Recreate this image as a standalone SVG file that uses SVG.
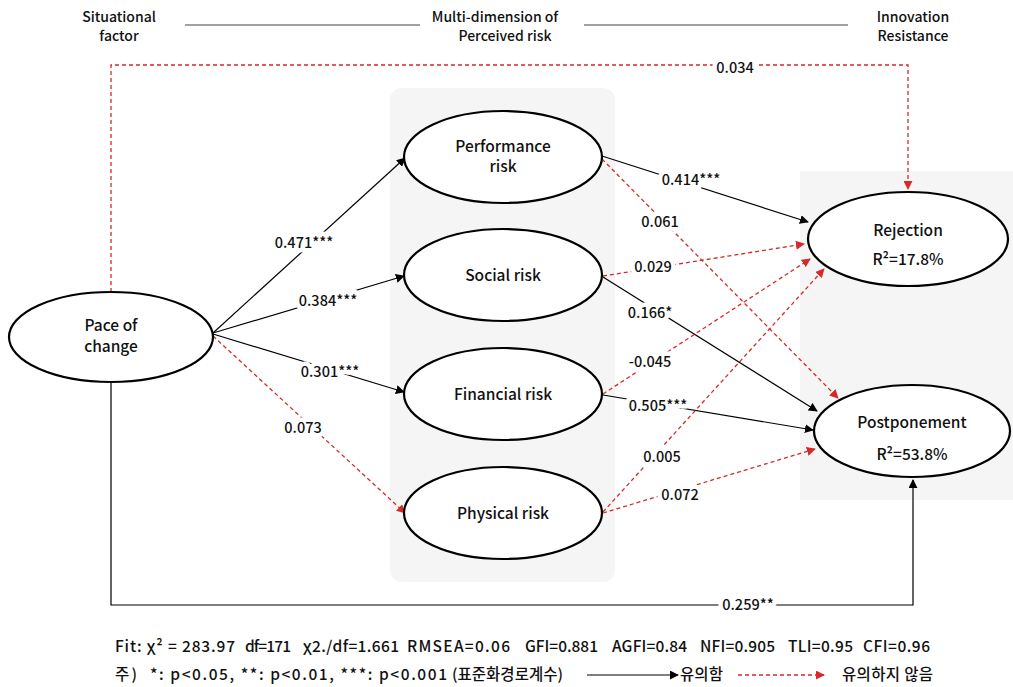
<svg xmlns="http://www.w3.org/2000/svg" width="1013" height="687" viewBox="0 0 1013 687">
<defs>
<style>
text{font-family:"Noto Sans CJK KR","Noto Sans",sans-serif;fill:#111;font-weight:500;}
.hdr{font-size:14px;text-anchor:middle;}
.node ellipse{fill:#fff;stroke:#000;stroke-width:2.2;}
.nt{font-size:15.5px;text-anchor:middle;}
.lbl{font-size:14.5px;text-anchor:middle;paint-order:stroke;stroke:#fff;stroke-width:9px;stroke-linejoin:round;}
.sig{fill:none;stroke:#000;stroke-width:1.2;}
.ns{fill:none;stroke:#d42a2a;stroke-width:1.3;stroke-dasharray:4 3;}
.ft{font-size:15.5px;}
</style>
<marker id="ab" viewBox="0 0 10 10" refX="9" refY="5" markerWidth="9" markerHeight="9" markerUnits="userSpaceOnUse" orient="auto"><path d="M0,0L10,5L0,10z" fill="#000"/></marker>
<marker id="ar" viewBox="0 0 10 10" refX="9" refY="5" markerWidth="9" markerHeight="9" markerUnits="userSpaceOnUse" orient="auto"><path d="M0,0L10,5L0,10z" fill="#d42a2a"/></marker>
</defs>
<rect width="1013" height="687" fill="#fff"/>
<rect x="390" y="88" width="225" height="494" rx="12" fill="#f5f5f5"/>
<rect x="800" y="171" width="213" height="329" fill="#f5f5f5"/>

<g id="headers">
<text class="hdr" x="119" y="22">Situational</text>
<text class="hdr" x="119" y="41">factor</text>
<text class="hdr" x="495" y="22">Multi-dimension of</text>
<text class="hdr" x="505" y="41">Perceived risk</text>
<text class="hdr" x="913" y="22">Innovation</text>
<text class="hdr" x="913" y="41">Resistance</text>
<line x1="185" y1="25" x2="420" y2="25" stroke="#444" stroke-width="1"/>
<line x1="584" y1="25" x2="848" y2="25" stroke="#444" stroke-width="1"/>
</g>

<g id="connectors">
<polyline class="ns" points="111,292 111,65 908,65 908,189" marker-end="url(#ar)"/>
<polyline class="sig" points="111,382 111,605 913,605 913,480" marker-end="url(#ab)"/>
<line class="sig" x1="213" y1="333" x2="405" y2="158" marker-end="url(#ab)"/>
<line class="sig" x1="213" y1="333" x2="404" y2="276" marker-end="url(#ab)"/>
<line class="sig" x1="213" y1="334" x2="404" y2="392" marker-end="url(#ab)"/>
<line class="ns" x1="213" y1="336" x2="405" y2="513" marker-end="url(#ar)"/>
<line class="sig" x1="602" y1="156" x2="808" y2="222" marker-end="url(#ab)"/>
<line class="ns" x1="602" y1="159" x2="838" y2="398" marker-end="url(#ar)"/>
<line class="ns" x1="603" y1="276" x2="804" y2="244" marker-end="url(#ar)"/>
<line class="sig" x1="603" y1="277" x2="817" y2="411" marker-end="url(#ab)"/>
<line class="ns" x1="603" y1="394" x2="810" y2="259" marker-end="url(#ar)"/>
<line class="sig" x1="603" y1="395" x2="813" y2="430" marker-end="url(#ab)"/>
<line class="ns" x1="603" y1="512" x2="824" y2="269" marker-end="url(#ar)"/>
<line class="ns" x1="603" y1="513" x2="815" y2="449" marker-end="url(#ar)"/>
</g>

<g id="labels">
<text class="lbl" x="735" y="73">0.034</text>
<text class="lbl" x="304" y="248">0.471***</text>
<text class="lbl" x="328" y="306">0.384***</text>
<text class="lbl" x="330" y="377">0.301***</text>
<text class="lbl" x="303" y="433">0.073</text>
<text class="lbl" x="691" y="185">0.414***</text>
<text class="lbl" x="660" y="227">0.061</text>
<text class="lbl" x="653" y="272">0.029</text>
<text class="lbl" x="650" y="318">0.166*</text>
<text class="lbl" x="650" y="367">-0.045</text>
<text class="lbl" x="658" y="411">0.505***</text>
<text class="lbl" x="662" y="462">0.005</text>
<text class="lbl" x="680" y="500">0.072</text>
<text class="lbl" x="748" y="610">0.259**</text>
</g>

<g id="pace" class="node"><ellipse cx="111" cy="337" rx="102" ry="45"/><text class="nt" x="111" y="331">Pace of</text><text class="nt" x="111" y="352">change</text></g>
<g id="performance" class="node"><ellipse cx="503" cy="157" rx="99" ry="46"/><text class="nt" x="503" y="152">Performance</text><text class="nt" x="503" y="172">risk</text></g>
<g id="social" class="node"><ellipse cx="503" cy="275" rx="99" ry="46"/><text class="nt" x="503" y="281">Social risk</text></g>
<g id="financial" class="node"><ellipse cx="503" cy="394" rx="99" ry="46"/><text class="nt" x="503" y="400">Financial risk</text></g>
<g id="physical" class="node"><ellipse cx="503" cy="513" rx="99" ry="46"/><text class="nt" x="503" y="519">Physical risk</text></g>
<g id="rejection" class="node"><ellipse cx="908" cy="239" rx="100" ry="47"/><text class="nt" x="908" y="236">Rejection</text><text class="nt" x="908" y="265">R²=17.8%</text></g>
<g id="postponement" class="node"><ellipse cx="912" cy="431" rx="98" ry="46"/><text class="nt" x="912" y="428">Postponement</text><text class="nt" x="912" y="460">R²=53.8%</text></g>

<g id="footer">
<text class="ft" x="115" y="652" textLength="120">Fit: χ² = 283.97</text>
<text class="ft" x="245" y="652" textLength="46">df=171</text>
<text class="ft" x="303" y="652" textLength="96">χ2./df=1.661</text>
<text class="ft" x="407" y="652" textLength="103">RMSEA=0.06</text>
<text class="ft" x="525" y="652" textLength="73">GFI=0.881</text>
<text class="ft" x="612" y="652" textLength="75">AGFI=0.84</text>
<text class="ft" x="700" y="652" textLength="75">NFI=0.905</text>
<text class="ft" x="788" y="652" textLength="65">TLI=0.95</text>
<text class="ft" x="863" y="652" textLength="67">CFI=0.96</text>
<text class="ft" x="115" y="680" textLength="22">주)</text>
<text class="ft" x="150" y="680" textLength="297">*: p&lt;0.05, **: p&lt;0.01, ***: p&lt;0.001</text>
<text class="ft" x="452" y="680" textLength="111">(표준화경로계수)</text>
<line class="sig" x1="587" y1="675" x2="678" y2="675" marker-end="url(#ab)"/>
<text class="ft" x="680" y="680" textLength="43">유의함</text>
<line class="ns" x1="738" y1="675" x2="824" y2="675" marker-end="url(#ar)"/>
<text class="ft" x="842" y="680" textLength="91">유의하지 않음</text>
</g>
</svg>
